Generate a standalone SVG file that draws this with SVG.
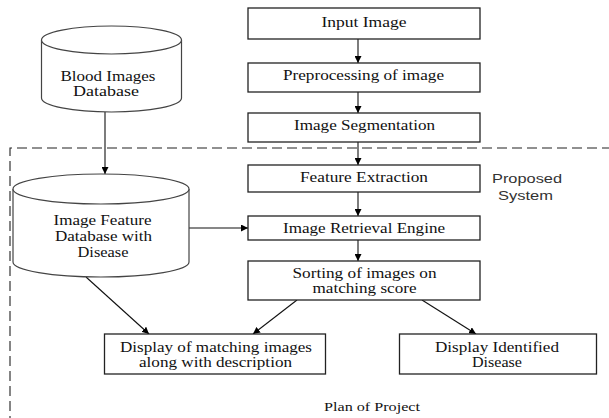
<svg xmlns="http://www.w3.org/2000/svg" width="609" height="418" viewBox="0 0 609 418">
<defs>
<marker id="ah" viewBox="0 0 10 10" refX="10" refY="5" markerWidth="7" markerHeight="7" markerUnits="userSpaceOnUse" orient="auto">
<path d="M0,0 L10,5 L0,10 z" fill="#000"/>
</marker>
<style>
.box{fill:#fff;stroke:#222;stroke-width:1.3}
.cyl{fill:#fff;stroke:#444;stroke-width:1.2}
.t{font-family:"Liberation Serif","Times New Roman",serif;font-size:15px;fill:#111;text-anchor:middle}
.s{font-family:"Liberation Sans","Noto Sans",sans-serif;font-size:13px;fill:#333;text-anchor:middle}
.c{stroke:#111;stroke-width:1.1;fill:none}
.ca{stroke:#111;stroke-width:1.1;fill:none;marker-end:url(#ah)}
</style>
</defs>
<rect width="609" height="418" fill="#fff"/>
<path d="M612,148 H10 V420" fill="none" stroke="#222" stroke-width="1.1" stroke-dasharray="10,5"/>
<g id="connectors">
<line class="ca" x1="358" y1="39" x2="358" y2="63"/>
<line class="ca" x1="358" y1="92" x2="358" y2="113"/>
<line class="ca" x1="358" y1="142" x2="358" y2="165"/>
<line class="ca" x1="358" y1="192" x2="358" y2="216"/>
<line class="ca" x1="358" y1="240" x2="358" y2="261"/>
<line class="ca" x1="105" y1="112" x2="105" y2="174"/>
<line class="ca" x1="189" y1="228" x2="248" y2="228"/>
<line class="ca" x1="86" y1="277" x2="149" y2="334"/>
<line class="ca" x1="297" y1="300" x2="253" y2="334"/>
<line class="ca" x1="422" y1="300" x2="476" y2="334"/>
</g>
<g id="blood-db">
<path class="cyl" d="M41.5,40 V98 A70,14 0 0,0 181.5,98 V40"/>
<ellipse class="cyl" cx="111.5" cy="40" rx="70" ry="14"/>
<text class="t" x="108" y="81" textLength="95" lengthAdjust="spacingAndGlyphs">Blood Images</text>
<text class="t" x="106" y="96" textLength="66" lengthAdjust="spacingAndGlyphs">Database</text>
</g>
<g id="feature-db">
<path class="cyl" d="M13,189 V262 A88,15 0 0,0 189,262 V189"/>
<ellipse class="cyl" cx="101" cy="189" rx="88" ry="15"/>
<text class="t" x="102.5" y="225" textLength="98" lengthAdjust="spacingAndGlyphs">Image Feature</text>
<text class="t" x="103.5" y="241" textLength="97" lengthAdjust="spacingAndGlyphs">Database with</text>
<text class="t" x="103" y="257" textLength="51" lengthAdjust="spacingAndGlyphs">Disease</text>
</g>
<g id="input-image">
<rect class="box" x="248" y="8" width="232" height="31"/>
<text class="t" x="364" y="27" textLength="85" lengthAdjust="spacingAndGlyphs">Input Image</text>
</g>
<g id="preprocessing">
<rect class="box" x="248" y="63" width="232" height="29"/>
<text class="t" x="363.5" y="80" textLength="161" lengthAdjust="spacingAndGlyphs">Preprocessing of image</text>
</g>
<g id="segmentation">
<rect class="box" x="248" y="113" width="232" height="29"/>
<text class="t" x="364.5" y="130" textLength="141" lengthAdjust="spacingAndGlyphs">Image Segmentation</text>
</g>
<g id="feature-extraction">
<rect class="box" x="248" y="165" width="232" height="27"/>
<text class="t" x="364" y="182" textLength="128" lengthAdjust="spacingAndGlyphs">Feature Extraction</text>
</g>
<g id="retrieval-engine">
<rect class="box" x="248" y="216" width="232" height="24"/>
<text class="t" x="364" y="233" textLength="162" lengthAdjust="spacingAndGlyphs">Image Retrieval Engine</text>
</g>
<g id="sorting">
<rect class="box" x="248" y="261" width="232" height="39"/>
<text class="t" x="364.5" y="278" textLength="144" lengthAdjust="spacingAndGlyphs">Sorting of images on</text>
<text class="t" x="364.5" y="292.5" textLength="104" lengthAdjust="spacingAndGlyphs">matching score</text>
</g>
<g id="display-matching">
<rect class="box" x="104.5" y="334" width="221" height="40"/>
<text class="t" x="216" y="352" textLength="192" lengthAdjust="spacingAndGlyphs">Display of matching images</text>
<text class="t" x="215.5" y="367" textLength="153" lengthAdjust="spacingAndGlyphs">along with description</text>
</g>
<g id="display-disease">
<rect class="box" x="399.5" y="334" width="197" height="40"/>
<text class="t" x="497" y="352" textLength="124" lengthAdjust="spacingAndGlyphs">Display Identified</text>
<text class="t" x="497" y="367" textLength="50" lengthAdjust="spacingAndGlyphs">Disease</text>
</g>
<g id="proposed-system">
<text class="s" x="527" y="183" textLength="70" lengthAdjust="spacingAndGlyphs">Proposed</text>
<text class="s" x="525.5" y="199.5" textLength="55" lengthAdjust="spacingAndGlyphs">System</text>
</g>
<g id="caption">
<text class="t" x="372" y="410.5" style="font-size:13px" textLength="96" lengthAdjust="spacingAndGlyphs">Plan of Project</text>
</g>
</svg>
